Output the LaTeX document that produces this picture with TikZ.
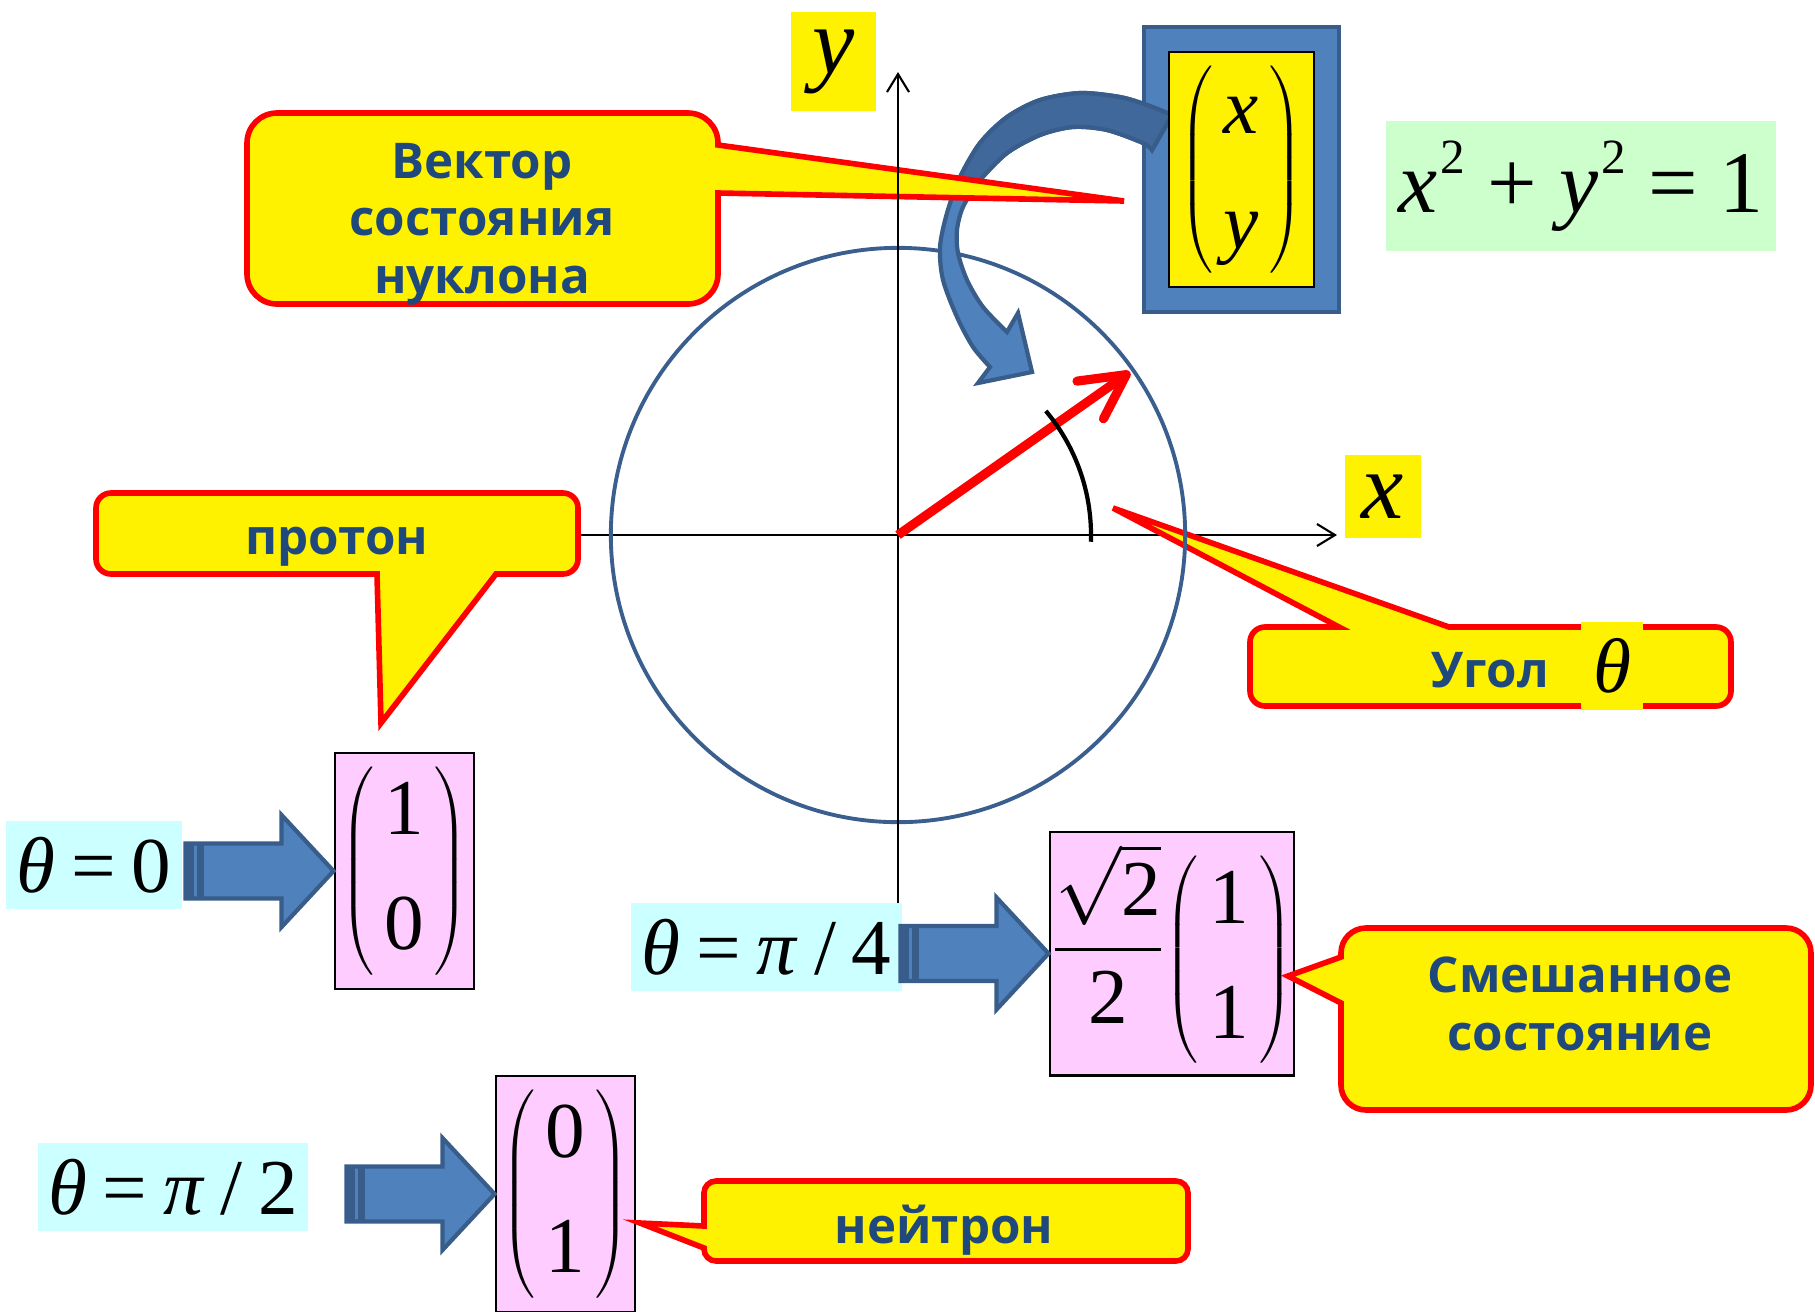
\RequirePackage{fix-cm}
\documentclass[tikz,border=0pt]{standalone}
\usepackage{amsmath}
\usepackage{fontspec}
\setmainfont{Liberation Serif}
\newfontfamily\lblfont{Open Sans}
\usetikzlibrary{arrows.meta}

\definecolor{lbltext}{HTML}{1F497D}
\definecolor{arrblue}{HTML}{4F81BD}
\definecolor{arrdark}{HTML}{41689A}
\definecolor{arrline}{HTML}{385D8A}
\definecolor{circblue}{HTML}{3A5F8E}
\definecolor{cyanbg}{HTML}{CCFFFF}
\definecolor{pinkbg}{HTML}{FFCCFF}
\definecolor{greenbg}{HTML}{CCFFCC}

% big Times entries, thin parentheses
\newcommand{\vcell}[1]{\mbox{\fontsize{22.5}{27}\selectfont\vphantom{0}#1}}
\newcommand{\colvec}[2]{\left(\begin{array}{@{\hspace{3pt}}c@{\hspace{3pt}}}\rule{0pt}{19pt}\vcell{#1}\\[13.8pt]\vcell{#2}\rule[-7pt]{0pt}{7pt}\end{array}\right)}
\newcommand{\eqsp}{\hspace{0.2em}}
\newcommand{\powtwo}{\raisebox{11pt}{\fontsize{14}{14}\selectfont\hspace{1pt}2}}

\tikzset{
  callbox/.style={draw=red, fill=yellow, line width=1.6pt},
  calltext/.style={text=lbltext, font=\lblfont\bfseries\fontsize{14}{16.4}\selectfont, align=center, inner sep=0pt},
  mbox/.style={inner sep=0pt, font=\fontsize{22.5}{27}\selectfont},
  thetabox/.style={mbox, fill=cyanbg, minimum height=0.88cm},
  statebox/.style={inner sep=0pt, font=\fontsize{11}{13.2}\selectfont, fill=pinkbg, draw=black, line width=0.8pt, minimum width=1.39cm, minimum height=2.36cm},
  axislabel/.style={fill=yellow, inner sep=0pt, font=\fontsize{27}{30}\selectfont\itshape},
  axisline/.style={line width=0.6pt, -{Straight Barb[length=1.8mm,width=2.2mm]}},
  band/.style={fill=arrblue, draw=arrline, line width=1.2pt, line join=miter},
  bluearrow/.pic={
    \filldraw[band] (-148,-27.5) -- (-52,-27.5) -- (-52,-56) -- (0,0) -- (-52,56) -- (-52,27.5) -- (-148,27.5) -- cycle;
    \fill[arrline] (-148,-27.5) rectangle (-140,27.5);
    \fill[arrline] (-137,-27.5) rectangle (-130,27.5);
  }
}

\begin{document}
\begin{tikzpicture}[x=0.01cm, y=-0.01cm]
  \useasboundingbox (0,0) rectangle (1815,1311);
  \coordinate (O) at (898,535);
  \coordinate (P) at (1130,372);
  % x axis with the angle callout
  \draw[axisline] (579,535) -- (1337,535);
  \node[axislabel, minimum width=0.76cm, minimum height=0.83cm] (xl) at (1383,496.5) {x};
  \draw[callbox, rounded corners=0.15cm] (1600,627) -- (1731,627) -- (1731,706) -- (1250,706) -- (1250,627)
    [sharp corners] -- (1339,627) -- (1113,508) -- (1449,627) -- cycle;
  \node[calltext, anchor=base] (ugol) at (1490,687) {Угол};
  \node[mbox, fill=yellow, minimum width=0.62cm, minimum height=0.88cm, font=\fontsize{22}{26}\selectfont\itshape] (th) at (1612,666) {θ};
  % unit circle
  \draw[circblue, line width=1.1pt] (O) circle[radius=2.87cm];
  % state vector box and curved arrow
  \node[draw=arrline, fill=arrblue, line width=1.2pt, minimum width=1.95cm, minimum height=2.85cm] (vbox) at (1241.5,169.5) {};
  \filldraw[band] plot[smooth] coordinates {(1172,115) (1147,105) (1120,97) (1080,93) (1040,100) (1007,117) (980,143) (960,177) (947,213) (940,247) (943,280) (957,317) (973,347) (990,367)}
    -- (978,383) -- (1032,372) -- (1018,313) -- (1007,332)
    -- plot[smooth] coordinates {(1007,332) (983,307) (967,280) (958,253) (957,230) (963,207) (980,180) (1007,153) (1040,135) (1073,127) (1107,130) (1143,143) (1152,150)} -- cycle;
  \filldraw[band, fill=arrdark] plot[smooth] coordinates {(1172,115) (1147,105) (1120,97) (1080,93) (1040,100) (1007,117) (980,143) (960,177) (954,192)}
    -- plot[smooth] coordinates {(971,192) (980,180) (1007,153) (1040,135) (1073,127) (1107,130) (1143,143) (1152,150)} -- cycle;
  \node[statebox, fill=yellow, line width=0.7pt, minimum width=1.45cm, minimum height=2.35cm] (xy) at (1241.5,169.5)
    {$\colvec{\textit{x}}{\textit{y}}$};
  \draw[callbox, rounded corners=0.3cm] (482,113) -- (718,113) [sharp corners] -- (718,145) -- (1124,201) -- (718,193)
    [rounded corners=0.3cm] -- (718,304) -- (247,304) -- (247,113) -- cycle;
  \node[calltext] (vekt) at (482,224) {Вектор\\состояния\\нуклона};
  % y axis
  \draw[axisline] (898,903) -- (898,72);
  \node[axislabel, minimum width=0.85cm, minimum height=0.99cm] (yl) at (833.5,61.5) {y};
  % vector and angle
  \draw[red, line width=2.6pt, -{Straight Barb[length=4.4mm,width=4.6mm,round]}] (O) -- (P);
  \draw[line width=1.2pt] plot[domain=-2:40, samples=40] ({898+193*cos(\x)}, {535-193*sin(\x)});
  % circle equation
  \node[inner sep=0pt, fill=greenbg, minimum width=3.9cm, minimum height=1.3cm, font=\fontsize{25}{30}\selectfont] (eq) at (1581,186)
    {\textit{x}\powtwo{} + \textit{y}\powtwo{} = 1};
  % proton
  \draw[callbox, rounded corners=0.15cm] (337,493) -- (578,493) -- (578,574) [sharp corners] -- (496,574) -- (381,723) -- (377,574)
    [rounded corners=0.15cm] -- (96,574) -- (96,493) -- cycle;
  \node[calltext, anchor=base] (prot) at (337,554) {протон};
  \node[thetabox, minimum width=1.76cm] (t0) at (94,865) {\textit{θ}\eqsp=\eqsp0};
  \node[statebox] (v0) at (404.5,871) {$\colvec{1}{0}$};
  % mixed state
  \node[thetabox, minimum width=2.71cm] (t4) at (766.5,947) {\textit{θ}\eqsp=\eqsp\textit{π}\eqsp/\eqsp4};
  \node[statebox, minimum width=2.44cm, minimum height=2.43cm] (v4) at (1172,953.5)
    {\mbox{\fontsize{22.5}{27}\selectfont$\dfrac{\sqrt{\text{2}}}{\text{2}}$}$\colvec{1}{1}$};
  \draw[callbox, rounded corners=0.25cm] (1576,928) -- (1811,928) -- (1811,1110) -- (1341,1110) [sharp corners]
    -- (1341,1003) -- (1288,976) -- (1341,957) [rounded corners=0.25cm] -- (1341,928) -- cycle;
  \node[calltext] (mix) at (1580,1004) {Смешанное\\состояние};
  % neutron
  \node[thetabox, minimum width=2.70cm] (t2) at (173,1187) {\textit{θ}\eqsp=\eqsp\textit{π}\eqsp/\eqsp2};
  \node[statebox] (v2) at (565.5,1194) {$\colvec{0}{1}$};
  \draw[callbox, rounded corners=0.12cm] (946,1181) -- (1188,1181) -- (1188,1261) -- (704,1261) [sharp corners]
    -- (704,1248) -- (640,1223) -- (704,1226) [rounded corners=0.12cm] -- (704,1181) -- cycle;
  \node[calltext, anchor=base] (neut) at (944,1243) {нейтрон};
  % block arrows
  \foreach \v in {v0,v4,v2} \pic at (\v.west) {bluearrow};
\end{tikzpicture}
\end{document}
